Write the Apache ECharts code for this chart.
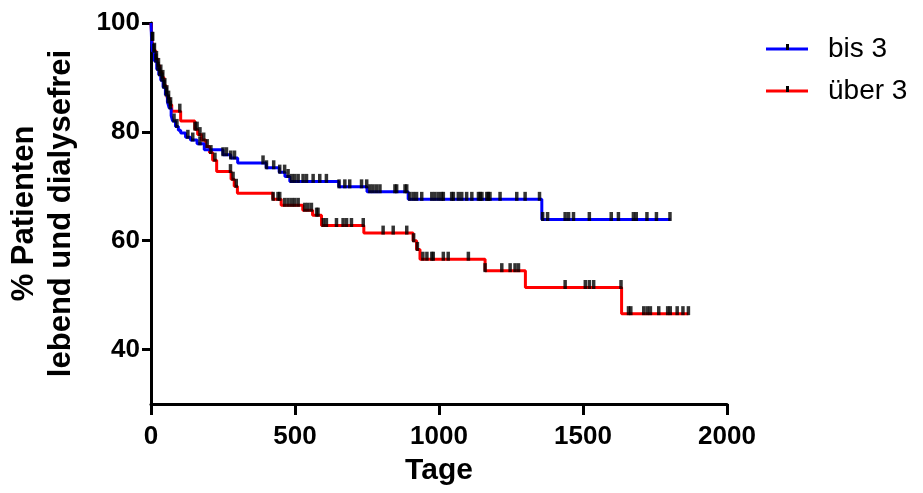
<!DOCTYPE html>
<html>
<head>
<meta charset="utf-8">
<script src="https://cdn.jsdelivr.net/npm/echarts@6/dist/echarts.min.js"></script>
<style>html,body{margin:0;padding:0;background:#fff}#c{width:923px;height:493px}</style>
</head>
<body>
<div id="c"></div>
<script>
// Kaplan-Meier step data: time (Tage) and survival (%) after each step
var blueT = [0, 2, 5, 12, 20, 27, 34, 42, 50, 57, 63, 70, 75, 85, 95, 103, 120, 137, 160, 185, 250, 277, 301, 400, 445, 465, 482, 652, 750, 893, 1357, 1804];
var blueS = [100, 97, 94.8, 93, 91.5, 90.5, 89.5, 88.2, 86.8, 85.5, 84.4, 83, 82, 81, 80.3, 79.8, 79.0, 78.5, 77.8, 76.7, 75.8, 75.2, 74.3, 73.4, 72.6, 71.8, 70.9, 69.9, 69.0, 67.6, 63.9, 63.9];
var redT = [0, 3, 8, 15, 22, 30, 38, 45, 52, 57, 64, 72, 103, 152, 162, 175, 190, 203, 214, 228, 278, 289, 300, 423, 452, 527, 561, 592, 739, 910, 922, 934, 1160, 1300, 1634, 1866];
var redS = [100, 97, 95, 93.5, 92.2, 91, 90, 88.5, 87.2, 86.2, 85, 83.8, 82.0, 80.5, 79.5, 78.5, 77.3, 76.2, 74.8, 72.7, 71.3, 70, 68.7, 67.6, 66.5, 65.6, 64.7, 62.8, 61.4, 60, 58.4, 56.6, 54.5, 51.4, 46.6, 46.6];
// censored observations (Tage)
var blueCensor = [4, 10, 17, 24, 30, 38, 45, 53, 60, 67, 80, 90, 128, 145, 170, 250, 262, 277, 290, 389, 401, 426, 447, 464, 476, 488, 499, 511, 528, 540, 563, 586, 609, 653, 673, 690, 731, 749, 760, 771, 783, 795, 847, 853, 882, 888, 899, 911, 922, 940, 975, 986, 998, 1009, 1015, 1044, 1050, 1067, 1079, 1096, 1114, 1137, 1143, 1149, 1166, 1171, 1177, 1212, 1270, 1299, 1349, 1360, 1377, 1438, 1450, 1467, 1522, 1598, 1623, 1675, 1685, 1722, 1755, 1802];
var redCensor = [6, 12, 19, 26, 34, 41, 48, 55, 61, 68, 100, 153, 160, 170, 183, 195, 208, 222, 276, 285, 296, 424, 441, 447, 464, 476, 488, 499, 511, 534, 545, 557, 575, 580, 598, 609, 644, 667, 679, 696, 737, 806, 841, 888, 912, 925, 944, 958, 975, 980, 1015, 1032, 1102, 1160, 1218, 1247, 1264, 1276, 1438, 1508, 1522, 1537, 1632, 1658, 1666, 1711, 1723, 1734, 1763, 1794, 1803, 1827, 1847, 1866];
var xTicks = [0, 500, 1000, 1500, 2000];
var yTicks = [40, 60, 80, 100];
var seriesNames = ['bis 3', 'über 3'];

function pairs(t, s) { return t.map(function (v, i) { return [v, s[i]]; }); }
function survAt(t, s, x) {
  var v = s[0];
  for (var i = 0; i < t.length; i++) { if (t[i] <= x) v = s[i]; }
  return v;
}
function censorPts(c, t, s) { return c.map(function (x) { return [x, survAt(t, s, x)]; }); }
function plain(v) { return String(v); }

var FONT = '"Liberation Sans", Arial, Helvetica, sans-serif';
var chart = echarts.init(document.getElementById('c'));
var censorStyle = { color: '#000' };
chart.setOption({
  animation: false,
  backgroundColor: '#fff',
  textStyle: { fontFamily: FONT },
  grid: { left: 151, right: 196, top: 23, bottom: 89, containLabel: false, outerBoundsMode: 'none' },
  legend: {
    data: seriesNames,
    orient: 'vertical',
    left: 766, top: 35, padding: 0,
    icon: 'rect', itemWidth: 42, itemHeight: 3, itemGap: 14,
    textStyle: { fontFamily: FONT, fontSize: 28, color: '#000', lineHeight: 28, padding: [0, 0, 0, 15] }
  },
  xAxis: {
    type: 'value', min: 0, max: 2000, interval: 500,
    name: 'Tage', nameLocation: 'middle', nameGap: 52,
    nameTextStyle: { fontFamily: FONT, fontSize: 30, fontWeight: 'bold', color: '#000' },
    axisLine: { show: true, lineStyle: { color: '#000', width: 3 } },
    axisTick: { show: true, length: 11, lineStyle: { color: '#000', width: 3 }, customValues: xTicks },
    axisLabel: { fontFamily: FONT, fontSize: 26, fontWeight: 'bold', color: '#000', margin: 20, customValues: xTicks, formatter: plain },
    splitLine: { show: false }
  },
  yAxis: {
    type: 'value', min: 30, max: 100, interval: 10,
    name: '% Patienten\nlebend und dialysefrei', nameLocation: 'middle', nameRotate: 90, nameGap: 71,
    nameTextStyle: { fontFamily: FONT, fontSize: 31, fontWeight: 'bold', color: '#000', lineHeight: 37 },
    axisLine: { show: true, lineStyle: { color: '#000', width: 3 } },
    axisTick: { show: true, length: 9, lineStyle: { color: '#000', width: 3 }, customValues: yTicks },
    axisLabel: { fontFamily: FONT, fontSize: 26, fontWeight: 'bold', color: '#000', margin: 11, customValues: yTicks, formatter: plain },
    splitLine: { show: false }
  },
  series: [
    { name: seriesNames[1], type: 'line', step: 'end', data: pairs(redT, redS), showSymbol: false, symbol: 'none',
      lineStyle: { color: '#FF0000', width: 3 }, itemStyle: { color: '#FF0000' }, z: 2 },
    { name: seriesNames[0], type: 'line', step: 'end', data: pairs(blueT, blueS), showSymbol: false, symbol: 'none',
      lineStyle: { color: '#0000FF', width: 3 }, itemStyle: { color: '#0000FF' }, z: 3 },
    { type: 'scatter', data: censorPts(redCensor, redT, redS), symbol: 'rect', symbolSize: [3.5, 9], symbolOffset: [0, -3],
      itemStyle: censorStyle, z: 4, silent: true },
    { type: 'scatter', data: censorPts(blueCensor, blueT, blueS), symbol: 'rect', symbolSize: [3.5, 9], symbolOffset: [0, -3],
      itemStyle: censorStyle, z: 4, silent: true }
  ],
  graphic: [
    { type: 'rect', left: 786, top: 44, shape: { width: 3, height: 6 }, style: { fill: '#000' }, z: 100 },
    { type: 'rect', left: 786, top: 86, shape: { width: 3, height: 6 }, style: { fill: '#000' }, z: 100 }
  ]
});
</script>
</body>
</html>
